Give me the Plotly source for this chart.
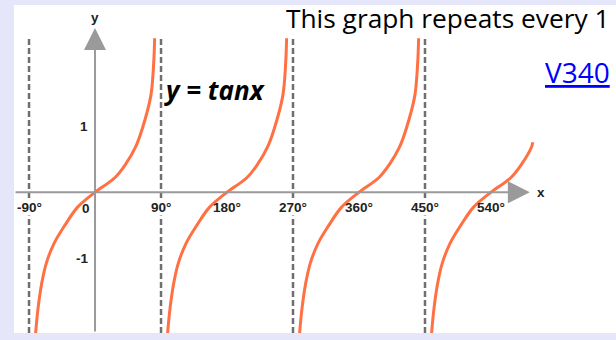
import plotly.graph_objects as go

# ---- data ----
# branch centres (degrees) where y = tan x crosses zero
branch_centres = [0, 180, 360, 540]
# one branch of the drawn curve: offset from centre (deg) and y value
branch_offsets = [-81, -79.5, -77, -73, -66.5, -56, -41, -24, 0,
                  27, 42, 55, 64, 76, 80, 81.3]
branch_values = [-2.14, -1.95, -1.7, -1.4, -1.08, -0.78, -0.5, -0.23, 0,
                 0.22, 0.43, 0.68, 0.95, 1.46, 1.96, 2.34]
# last branch stops early (top end)
last_branch_end = (57, 0.76)

asymptotes = [-90, 90, 270, 450]
asymptote_top = 2.37

x_tick_vals = [-90, 90, 180, 270, 360, 450, 540]
x_tick_text = ["-90°", "90°", "180°", "270°", "360°", "450°", "540°"]
y_tick_vals = [1, -1]
y_tick_text = ["1", "-1"]

x_range = [-110.5, 710.5]
y_range = [-2.138, 2.844]
x_axis_end = 593
y_axis_end = 2.495

fig = go.Figure()

# dashed asymptotes
ax_x, ax_y = [], []
for a in asymptotes:
    ax_x += [a, a, None]
    ax_y += [y_range[0], asymptote_top, None]
fig.add_trace(go.Scatter(x=ax_x, y=ax_y, mode="lines",
                         line=dict(color="#6f6f6f", width=2.5, dash="6px,3px"),
                         hoverinfo="skip", showlegend=False))

# curve branches
curve_color = "#FF7043"
for i, c in enumerate(branch_centres):
    if i == len(branch_centres) - 1:
        pts = [(o, v) for o, v in zip(branch_offsets, branch_values) if o < last_branch_end[0]]
        pts.append(last_branch_end)
    else:
        pts = list(zip(branch_offsets, branch_values))
    fig.add_trace(go.Scatter(x=[c + o for o, _ in pts], y=[v for _, v in pts],
                             mode="lines", line=dict(color=curve_color, width=3, shape="spline"),
                             hoverinfo="skip", showlegend=False))

annotations = []
axis_col = "#9a9a9a"
# axes with arrows
annotations.append(dict(x=x_axis_end, y=0, ax=x_range[0], ay=0, xref="x", yref="y",
                        axref="x", ayref="y", text="", showarrow=True, arrowhead=2,
                        arrowsize=2.2, arrowwidth=2, arrowcolor=axis_col))
annotations.append(dict(x=0, y=y_axis_end, ax=0, ay=y_range[0], xref="x", yref="y",
                        axref="x", ayref="y", text="", showarrow=True, arrowhead=2,
                        arrowsize=2.2, arrowwidth=2, arrowcolor=axis_col))

tick_font = dict(family="Liberation Sans, Arial", size=13.5, color="#222222", weight="bold")
for v, t in zip(x_tick_vals, x_tick_text):
    annotations.append(dict(x=v, y=0, xref="x", yref="y", text=t, showarrow=False,
                            yanchor="top", yshift=-7, font=tick_font,
                            bgcolor="white" if v in asymptotes else None, borderpad=0))
annotations.append(dict(x=0, y=0, xref="x", yref="y", text="0", showarrow=False,
                        xanchor="right", xshift=-3, yanchor="top", yshift=-7, font=tick_font))
for v, t in zip(y_tick_vals, y_tick_text):
    annotations.append(dict(x=0, y=v, xref="x", yref="y", text=t, showarrow=False,
                            xanchor="right", xshift=-5, font=tick_font))
annotations.append(dict(x=608, y=0, xref="x", yref="y", text="x", showarrow=False, font=tick_font))
annotations.append(dict(x=0, y=2.655, xref="x", yref="y", text="y", showarrow=False, font=tick_font))

annotations.append(dict(x=163.6, y=1.556, xref="x", yref="y", text="<b><i>y = tanx</i></b>",
                        showarrow=False, font=dict(family="Open Sans", size=26, color="black")))
annotations.append(dict(x=(284 - 14) / 602, y=1.02, xref="paper", yref="paper",
                        xanchor="left", yanchor="top", text="This graph repeats every 1",
                        showarrow=False, font=dict(family="Open Sans", size=26.3, color="black")))
annotations.append(dict(x=(543 - 14) / 602, y=(333 - 72) / 328, xref="paper", yref="paper",
                        xanchor="left", yanchor="middle", text="<u>V340</u>",
                        showarrow=False, font=dict(family="Open Sans", size=28, color="#0000ff")))

fig.update_layout(
    width=616, height=340,
    margin=dict(l=14, r=0, t=5, b=7),
    paper_bgcolor="#E6E6FA", plot_bgcolor="white",
    xaxis=dict(range=x_range, visible=False, fixedrange=True),
    yaxis=dict(range=y_range, visible=False, fixedrange=True),
    annotations=annotations,
    showlegend=False,
)

fig.write_html("out.html", config={"displayModeBar": False},
               post_script="document.body.style.margin='0';document.body.style.overflow='hidden';")
